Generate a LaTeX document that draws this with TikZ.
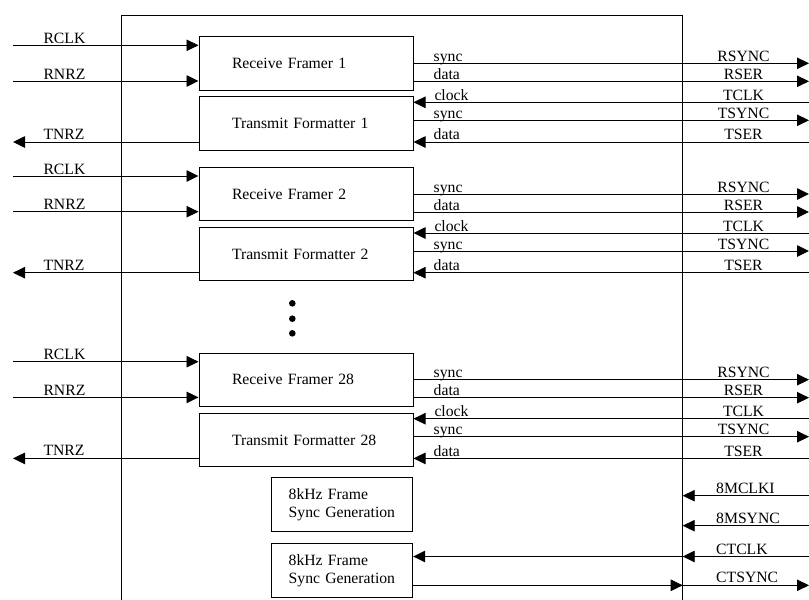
\documentclass[tikz,border=0pt]{standalone}
\usepackage{fontspec}
\setmainfont{Liberation Serif}
\usetikzlibrary{arrows.meta}
\begin{document}
\begin{tikzpicture}[x=1pt,y=-1pt,font=\fontsize{15.7}{17.7}\selectfont]
\tikzstyle{blk}=[draw,line width=1pt,rectangle,minimum height=53.3pt,text width=148pt,inner xsep=33pt,inner ysep=0pt,align=left]
\tikzstyle{gen}=[draw,line width=1pt,rectangle,minimum height=54pt,text width=107pt,inner xsep=17pt,inner ysep=0pt,align=left]
\tikzstyle{sig}=[line width=0.9pt,-{Triangle[length=12pt,width=11.5pt]}]
\tikzstyle{lbl}=[inner sep=0pt,anchor=base west]
\tikzstyle{pin}=[inner sep=0pt,anchor=base]
\tikzstyle{dot}=[circle,fill,inner sep=0pt,minimum size=6.6pt]
\useasboundingbox (0,0) rectangle (809,600);
\draw[line width=0.9pt] (121.7,600) -- (121.7,15.3) -- (682.7,15.3) -- (682.7,600);
\coordinate (edge) at (682.7,0);
\foreach \d/\n in {0/1,130.7/2,316.4/28}{
  \node[blk] (rf\n) at (306,63.35+\d) {Receive Framer \n};
  \node[blk] (tf\n) at (306,123.5+\d) {Transmit Formatter \n};
  \coordinate (rclk\n) at (13,45.3+\d);
  \coordinate (rnrz\n) at (13,81+\d);
  \coordinate (tnrz\n) at (13,142+\d);
  \coordinate (rsync\n) at (809,63.3+\d);
  \coordinate (rser\n) at (809,81.3+\d);
  \coordinate (tclk\n) at (809,102.3+\d);
  \coordinate (tsync\n) at (809,120.3+\d);
  \coordinate (tser\n) at (809,142+\d);
  \draw[sig] (rclk\n) -- (rclk\n -| rf\n.west);
  \draw[sig] (rnrz\n) -- (rnrz\n -| rf\n.west);
  \draw[sig] (tnrz\n -| tf\n.west) -- (tnrz\n);
  \draw[sig] (rsync\n -| rf\n.east) -- (rsync\n);
  \draw[sig] (rser\n -| rf\n.east) -- (rser\n);
  \draw[sig] (tclk\n) -- (tclk\n -| tf\n.east);
  \draw[sig] (tsync\n -| tf\n.east) -- (tsync\n);
  \draw[sig] (tser\n) -- (tser\n -| tf\n.east);
  \node[lbl] (lrclk\n) at (43.3,43.3+\d) {RCLK};
  \node[lbl] (lrnrz\n) at (43.3,79+\d) {RNRZ};
  \node[lbl] (ltnrz\n) at (43.3,139.5+\d) {TNRZ};
  \node[lbl] (lsynca\n) at (433.5,61.3+\d) {sync};
  \node[lbl] (ldataa\n) at (433.5,79.3+\d) {data};
  \node[lbl] (lclock\n) at (434.3,100.3+\d) {clock};
  \node[lbl] (lsyncb\n) at (433.5,118.3+\d) {sync};
  \node[lbl] (ldatab\n) at (433.5,139.7+\d) {data};
  \node[pin] (prsync\n) at (743.5,61.3+\d) {RSYNC};
  \node[pin] (prser\n) at (743.5,79.3+\d) {RSER};
  \node[pin] (ptclk\n) at (743.5,100.3+\d) {TCLK};
  \node[pin] (ptsync\n) at (743.5,118.3+\d) {TSYNC};
  \node[pin] (ptser\n) at (743.5,139.7+\d) {TSER};
}
\foreach \y/\i in {303.3/1,318.7/2,333.3/3}
  \node[dot] (dot\i) at (292.3,\y) {};
\node[gen] (gen1) at (342.2,504.7) {8kHz Frame\\Sync Generation};
\node[gen] (gen2) at (342.2,570.7) {8kHz Frame\\Sync Generation};
\coordinate (mclk) at (809,495.7);
\coordinate (msync) at (809,525.7);
\coordinate (ctclk) at (809,556.5);
\coordinate (ctsync) at (809,585.3);
\draw[sig] (mclk) -- (mclk -| edge);
\draw[sig] (msync) -- (msync -| edge);
\draw[sig] (ctclk) -- (ctclk -| edge);
\draw[sig] (ctclk -| edge) -- (ctclk -| gen2.east);
\draw[sig] (ctsync -| gen2.east) -- (ctsync -| edge);
\draw[sig] (ctsync -| edge) -- (ctsync);
\node[lbl] (lmclk) at (716,493.2) {8MCLKI};
\node[lbl] (lmsync) at (716,523.2) {8MSYNC};
\node[lbl] (lctclk) at (716,554) {CTCLK};
\node[lbl] (lctsync) at (716,582.3) {CTSYNC};
\end{tikzpicture}
\end{document}
